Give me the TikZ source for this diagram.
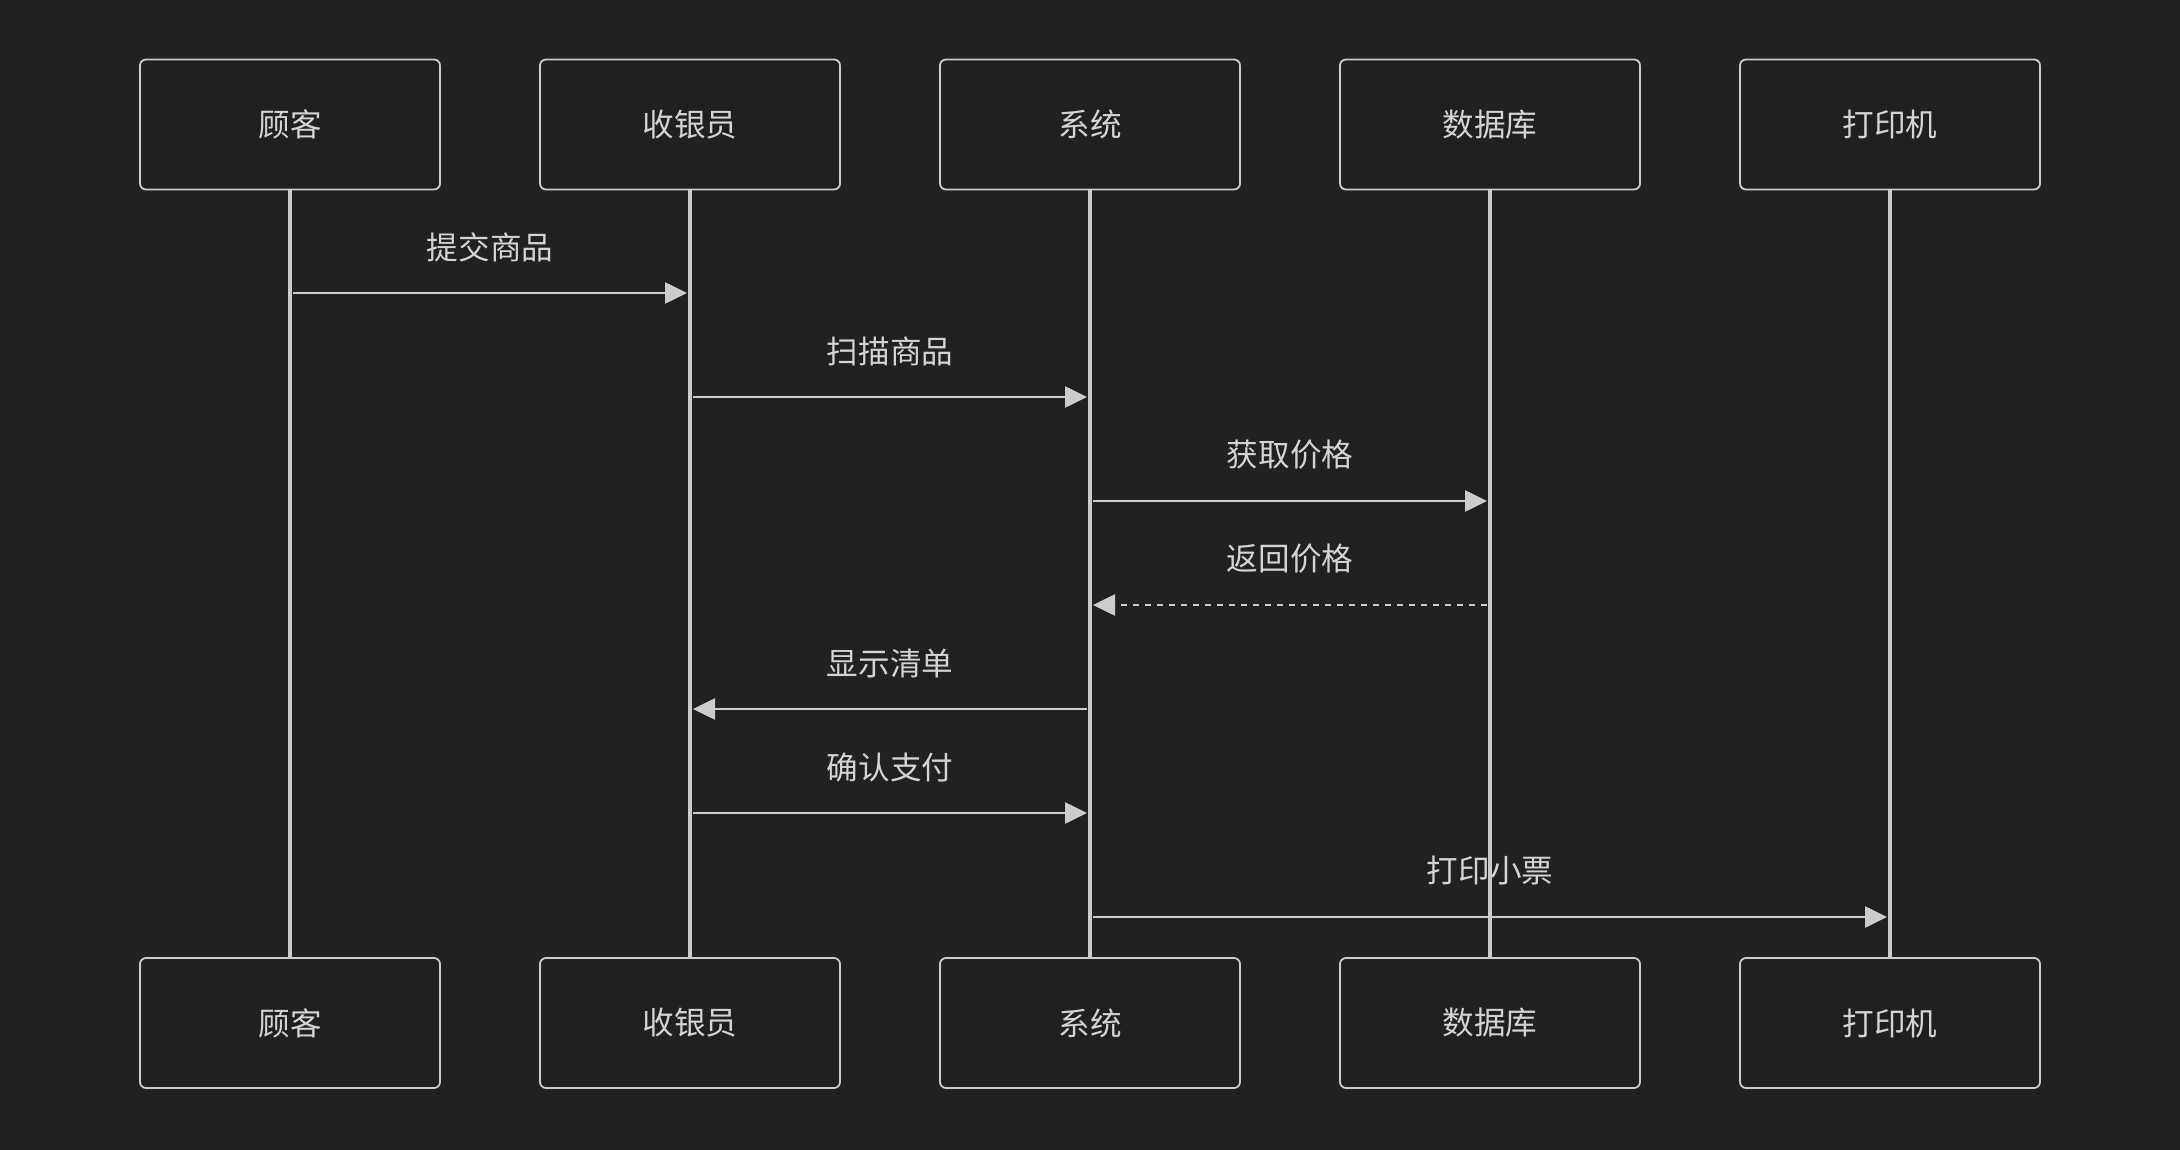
\documentclass[tikz,border=0pt]{standalone}
\usepackage{fontspec,xcolor,tikz}
\usetikzlibrary{arrows.meta}
\newfontfamily\cjk{Noto Sans CJK SC}
\definecolor{sqbg}{HTML}{212121}
\definecolor{sqbox}{HTML}{1F2020}
\definecolor{sqline}{HTML}{CCCCCC}
\definecolor{sqtext}{HTML}{D4D4D4}
\newcommand{\sqlab}{\cjk\fontsize{15.8}{18}\selectfont}
\tikzset{
  actor/.style={draw=sqline,line width=0.9pt,fill=sqbox,rounded corners=3pt,
    minimum width=150pt,minimum height=65pt,inner sep=0,text=sqtext,font=\sqlab},
  life/.style={sqline,line width=2pt},
  msg/.style={sqline,line width=1.3pt,-{Triangle[length=11pt,width=10.5pt]},
    shorten >=1.5pt,shorten <=1.5pt},
  reply/.style={msg,dash pattern=on 3pt off 3pt},
  msglab/.style={midway,yshift=23pt,inner sep=0,text=sqtext,font=\sqlab}
}

\begin{document}
\begin{tikzpicture}[x=0.5pt,y=-0.5pt]
\useasboundingbox (0,0) rectangle (2180,1150);
\fill[sqbg] (0,0) rectangle (2180,1150);
% actors, top row
\node[actor] (cust) at (290,124.5) {顾客};
\node[actor] (cash) at (690,124.5) {收银员};
\node[actor] (sys) at (1090,124.5) {系统};
\node[actor] (db) at (1490,124.5) {数据库};
\node[actor] (prn) at (1890,124.5) {打印机};
% actors, bottom row
\node[actor] (custb) at (290,1023) {顾客};
\node[actor] (cashb) at (690,1023) {收银员};
\node[actor] (sysb) at (1090,1023) {系统};
\node[actor] (dbb) at (1490,1023) {数据库};
\node[actor] (prnb) at (1890,1023) {打印机};
% messages
\draw[msg] (cust |- 0,293) -- node[msglab] (m1) {提交商品} (cash |- 0,293);
\draw[msg] (cash |- 0,397) -- node[msglab] (m2) {扫描商品} (sys |- 0,397);
\draw[msg] (sys |- 0,501) -- node[msglab] (m3) {获取价格} (db |- 0,501);
\draw[reply] (db |- 0,605) -- node[msglab] (m4) {返回价格} (sys |- 0,605);
\draw[msg] (sys |- 0,709) -- node[msglab] (m5) {显示清单} (cash |- 0,709);
\draw[msg] (cash |- 0,813) -- node[msglab] (m6) {确认支付} (sys |- 0,813);
\draw[msg] (sys |- 0,917) -- node[msglab] (m7) {打印小票} (prn |- 0,917);
% lifelines
\draw[life] (cust) -- (custb);
\draw[life] (cash) -- (cashb);
\draw[life] (sys) -- (sysb);
\draw[life] (db) -- (dbb);
\draw[life] (prn) -- (prnb);
\end{tikzpicture}
\end{document}
